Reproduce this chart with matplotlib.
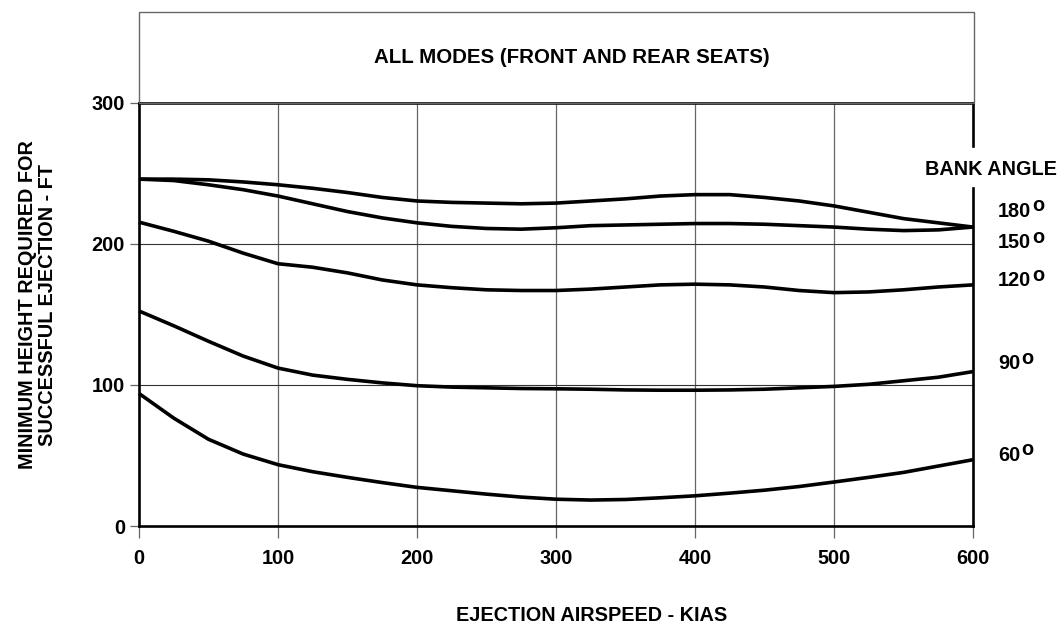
import matplotlib
matplotlib.use('Agg')
import matplotlib.pyplot as plt
import matplotlib.patches as mpatches

plt.rcParams['font.family'] = ['Liberation Sans', 'DejaVu Sans']
plt.rcParams['font.weight'] = 'bold'

# airspeed (KIAS) sample points
airspeed = [0, 25, 50, 75, 100, 125, 150, 175, 200, 225, 250, 275, 300,
            325, 350, 375, 400, 425, 450, 475, 500, 525, 550, 575, 600]

# minimum height (ft) per bank angle
h_180 = [246, 246, 245.5, 244, 242, 239.5, 236.5, 233, 230.5, 229.5, 229, 228.5, 229,
         230.5, 232, 234, 235, 235, 233, 230.5, 227, 222.5, 218, 215, 212]
h_150 = [246, 245, 242, 238.5, 234, 228.5, 223, 218.5, 215, 212.5, 211, 210.5, 211.5,
         213, 213.5, 214, 214.5, 214.5, 214, 213, 212, 210.5, 209.5, 210, 212]
h_120 = [215.5, 209, 202, 193.5, 186, 183.5, 179.5, 174.5, 171, 169, 167.5, 167, 167,
         168, 169.5, 171, 171.5, 171, 169.5, 167, 165.5, 166, 167.5, 169.5, 171]
h_90 = [152.5, 142, 131, 120.5, 112, 107, 104, 101.5, 99.5, 98.5, 98, 97.5, 97.3,
        97, 96.5, 96.3, 96.3, 96.5, 97, 98, 99, 100.5, 103, 105.5, 109.5]
h_60 = [94, 76.5, 61.5, 51, 43.5, 38.5, 34.5, 30.8, 27.4, 25, 22.6, 20.5, 19,
        18.4, 18.8, 20, 21.4, 23.3, 25.4, 28, 31.2, 34.5, 38, 42.5, 47]

curves = [h_180, h_150, h_120, h_90, h_60]
angle_labels = ['180', '150', '120', '90', '60']
label_heights = [223, 201, 174, 115, 50]   # where the angle labels sit (ft)

x_ticks = [0, 100, 200, 300, 400, 500, 600]
y_ticks = [0, 100, 200, 300]

FS = 14.3

fig = plt.figure(figsize=(10.61, 6.31), dpi=100)
ax = fig.add_axes([0.131, 0.1664, 0.786, 0.6704])

# header box above the plot
box = mpatches.Rectangle((0.131, 0.8368), 0.787, 0.144, transform=fig.transFigure,
                         fill=False, edgecolor='#666666', linewidth=1.0)
fig.add_artist(box)
fig.text(0.539, 0.909, 'ALL MODES (FRONT AND REAR SEATS)', ha='center', va='center',
         fontsize=14.8, fontweight='bold')

ax.set_xlim(0, 600)
ax.set_ylim(0, 300)

# grid
for xv in x_ticks[1:-1]:
    ax.axvline(xv, color='#666666', linewidth=0.9, zorder=1)
for yv in y_ticks[1:-1]:
    ax.axhline(yv, color='#333333', linewidth=0.8, zorder=1)

for h in curves:
    ax.plot(airspeed, h, color='black', linewidth=2.6, solid_capstyle='butt',
            solid_joinstyle='round', zorder=3, clip_on=False)

# spines; right one is broken for the BANK ANGLE label
for side in ['left', 'top', 'bottom']:
    ax.spines[side].set_linewidth(1.9)
    ax.spines[side].set_color('black')
ax.spines['right'].set_visible(False)
ax.axvline(600, ymin=0, ymax=0.799, color='black', linewidth=1.9, clip_on=False, zorder=4)
ax.axvline(600, ymin=0.898, ymax=1.0, color='black', linewidth=1.9, clip_on=False, zorder=4)

ax.set_xticks(x_ticks)
ax.set_yticks(y_ticks)
ax.tick_params(axis='x', length=8.6, width=0.9, color='#666666', pad=8, labelsize=FS)
ax.tick_params(axis='y', length=6.5, width=0.9, color='#666666', pad=3.5, labelsize=FS)
for lab in ax.get_xticklabels() + ax.get_yticklabels():
    lab.set_fontweight('bold')

fig.text(0.0355, 0.517, 'MINIMUM HEIGHT REQUIRED FOR\nSUCCESSFUL EJECTION - FT',
         rotation=90, ha='center', va='center', multialignment='center',
         fontsize=FS, fontweight='bold', linespacing=1.1)
fig.text(0.558, 0.025, 'EJECTION AIRSPEED - KIAS', ha='center', va='center',
         fontsize=FS, fontweight='bold')

# bank angle labels on the right
ax.text(613, 253, 'BANK ANGLE', ha='center', va='center', fontsize=FS,
        fontweight='bold', clip_on=False)
for lab, hy in zip(angle_labels, label_heights):
    t = ax.text(618, hy, lab, ha='left', va='center', fontsize=FS,
                fontweight='bold', clip_on=False)
    ax.annotate('o', xy=(1, 1), xycoords=t, xytext=(1, 4), textcoords='offset points',
                ha='left', va='top', fontsize=FS, fontweight='bold')

fig.savefig('out.png', dpi=100)
